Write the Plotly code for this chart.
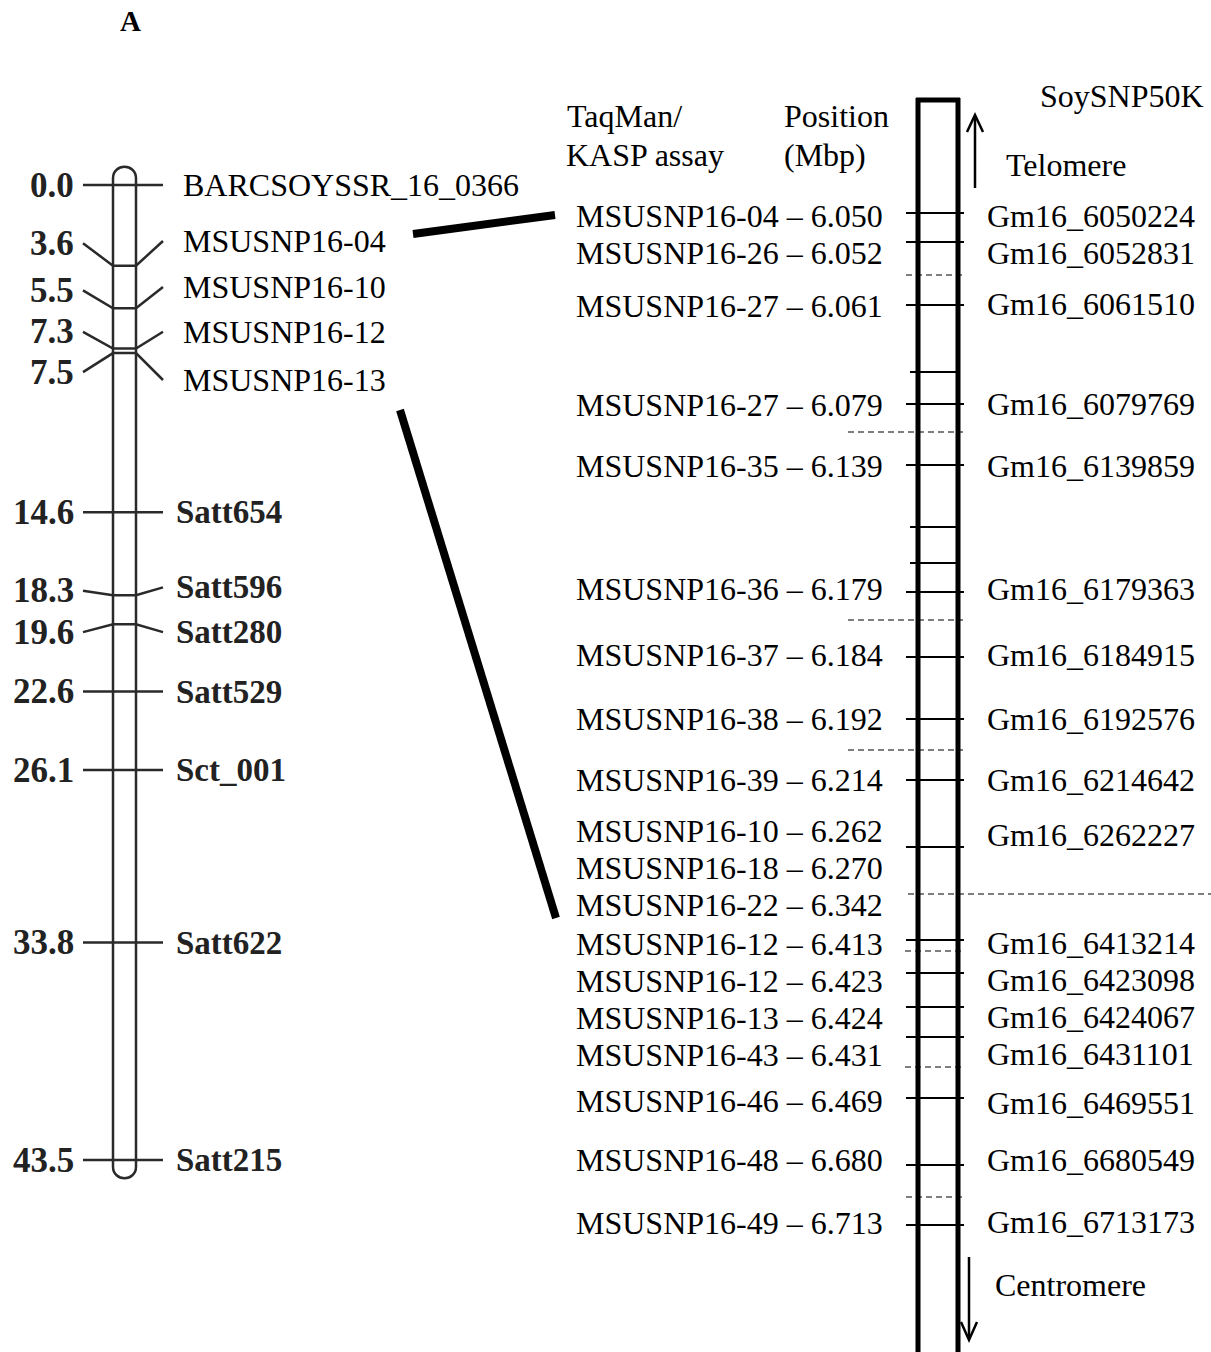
import plotly.graph_objects as go

# ---------------- DATA ----------------
# Genetic linkage map (left), positions in cM
map_markers = ["BARCSOYSSR_16_0366", "MSUSNP16-04", "MSUSNP16-10", "MSUSNP16-12",
               "MSUSNP16-13", "Satt654", "Satt596", "Satt280", "Satt529",
               "Sct_001", "Satt622", "Satt215"]
map_cm = [0.0, 3.6, 5.5, 7.3, 7.5, 14.6, 18.3, 19.6, 22.6, 26.1, 33.8, 43.5]

# Physical map (right)
assay_names = ["MSUSNP16-04", "MSUSNP16-26", "MSUSNP16-27", "MSUSNP16-27", "MSUSNP16-35",
               "MSUSNP16-36", "MSUSNP16-37", "MSUSNP16-38", "MSUSNP16-39", "MSUSNP16-10",
               "MSUSNP16-18", "MSUSNP16-22", "MSUSNP16-12", "MSUSNP16-12", "MSUSNP16-13",
               "MSUSNP16-43", "MSUSNP16-46", "MSUSNP16-48", "MSUSNP16-49"]
position_mbp = [6.050, 6.052, 6.061, 6.079, 6.139, 6.179, 6.184, 6.192, 6.214, 6.262,
                6.270, 6.342, 6.413, 6.423, 6.424, 6.431, 6.469, 6.680, 6.713]
soysnp_names = ["Gm16_6050224", "Gm16_6052831", "Gm16_6061510", "Gm16_6079769",
                "Gm16_6139859", "Gm16_6179363", "Gm16_6184915", "Gm16_6192576",
                "Gm16_6214642", "Gm16_6262227", None, None, "Gm16_6413214",
                "Gm16_6423098", "Gm16_6424067", "Gm16_6431101", "Gm16_6469551",
                "Gm16_6680549", "Gm16_6713173"]

# ---------------- LAYOUT (schematic placement) ----------------
W, H = 1211, 1352
SERIF = "Liberation Serif"
# left map label placement (cM units on the map axis)
num_label_cm = [0.0, 2.6, 4.7, 6.55, 8.35, 14.6, 18.1, 19.95, 22.6, 26.1, 33.8, 43.5]
name_label_cm = [0.0, 2.5, 4.55, 6.55, 8.7, 14.6, 17.95, 19.95, 22.6, 26.1, 33.8, 43.5]
CM_TOP_PX, PX_PER_CM = 185.0, 22.414
cm_range = [(H - CM_TOP_PX) / PX_PER_CM, -CM_TOP_PX / PX_PER_CM]

# right panel rows (pixel placement of the schematic)
row_label_y = [216, 253, 306, 405, 466, 589, 655, 719, 780, 831, 868, 905, 944, 981,
               1018, 1055, 1101, 1160, 1223]
snp_label_y = [216, 253, 304, 404, 466, 589, 655, 719, 780, 835, None, None, 943, 980,
               1017, 1054, 1103, 1160, 1222]
row_tick_y = [213, 242, 305, 404, 465, 592, 657, 719, 780, 847, None, None, 940, 973,
              1007, 1037, 1098, 1165, 1225]
extra_tick_y = [372, 527, 563]
dash_y = [275, 432, 620, 750, 951, 1067, 1197]
dash_x0 = [906, 848, 848, 848, 905, 905, 906]
long_dash_y = 894

fig = go.Figure()

# ---- left chromosome (map axis y2 in cM) ----
LX0, LX1 = 113, 136
seg_x, seg_y = [], []
for cm, nl, rl in zip(map_cm, num_label_cm, name_label_cm):
    seg_x += [83, LX0, LX1, 163, None]
    seg_y += [nl, cm, cm, rl, None]
fig.add_trace(go.Scatter(x=seg_x, y=seg_y, mode="lines", yaxis="y2",
                         line=dict(color="#2a2a2a", width=2.5), hoverinfo="skip",
                         showlegend=False))

cap = 0.68
top, bot = -0.3, map_cm[-1] + 0.3
fig.add_shape(type="path", xref="x", yref="y2",
              path=(f"M {LX0},{top} C {LX0},{top-cap} {LX1},{top-cap} {LX1},{top} "
                    f"L {LX1},{bot} C {LX1},{bot+cap} {LX0},{bot+cap} {LX0},{bot} Z"),
              line=dict(color="#2a2a2a", width=2.5), fillcolor="rgba(0,0,0,0)")

for name, cm, nl, rl in zip(map_markers, map_cm, num_label_cm, name_label_cm):
    fig.add_annotation(x=76, y=nl, xref="x", yref="y2", text=f"<b>{cm:.1f}</b>",
                       showarrow=False, xanchor="right", yanchor="middle",
                       font=dict(family=SERIF, size=35, color="#222"))
    if name.startswith("S"):
        fig.add_annotation(x=174, y=rl, xref="x", yref="y2", text=f"<b>{name}</b>",
                           showarrow=False, xanchor="left", yanchor="middle",
                           font=dict(family=SERIF, size=33, color="#222"))
    else:
        fig.add_annotation(x=181, y=rl, xref="x", yref="y2", text=name,
                           showarrow=False, xanchor="left", yanchor="middle",
                           font=dict(family=SERIF, size=32, color="black"))

# ---- connecting lines ----
fig.add_shape(type="line", x0=413, y0=234, x1=555, y1=215,
              line=dict(color="black", width=8))
fig.add_shape(type="line", x0=400, y0=410, x1=556, y1=918,
              line=dict(color="black", width=8))

# ---- right chromosome ----
RX0, RX1 = 918, 958
fig.add_shape(type="line", x0=RX0, y0=98, x1=RX0, y1=H, line=dict(color="black", width=5))
fig.add_shape(type="line", x0=RX1, y0=98, x1=RX1, y1=H, line=dict(color="black", width=5))
fig.add_shape(type="line", x0=RX0 - 2, y0=100, x1=RX1 + 2, y1=100,
              line=dict(color="black", width=5))

tx, ty = [], []
for yv in row_tick_y:
    if yv is not None:
        tx += [906, 964, None]
        ty += [yv, yv, None]
for yv in extra_tick_y:
    tx += [910, RX1, None]
    ty += [yv, yv, None]
fig.add_trace(go.Scatter(x=tx, y=ty, mode="lines", line=dict(color="black", width=2),
                         hoverinfo="skip", showlegend=False))

dx, dy = [], []
for yv, x0 in zip(dash_y, dash_x0):
    dx += [x0, 963, None]
    dy += [yv, yv, None]
dx += [908, W, None]
dy += [long_dash_y, long_dash_y, None]
fig.add_trace(go.Scatter(x=dx, y=dy, mode="lines",
                         line=dict(color="#7f7f7f", width=1.8, dash="6px,4px"),
                         hoverinfo="skip", showlegend=False))

for name, pos, ly in zip(assay_names, position_mbp, row_label_y):
    fig.add_annotation(x=885, y=ly, text=f"{name} – {pos:.3f}", showarrow=False,
                       xanchor="right", yanchor="middle",
                       font=dict(family=SERIF, size=32, color="black"))
for snp, ly in zip(soysnp_names, snp_label_y):
    if snp is not None:
        fig.add_annotation(x=985, y=ly, text=snp, showarrow=False,
                           xanchor="left", yanchor="middle",
                           font=dict(family=SERIF, size=32, color="black"))

# headers and labels
def txt(x, y, s, anchor="left", size=32, bold=False):
    fig.add_annotation(x=x, y=y, text=f"<b>{s}</b>" if bold else s, showarrow=False,
                       xanchor=anchor, yanchor="middle",
                       font=dict(family=SERIF, size=size, color="black"))

txt(118, 21, "A", size=29, bold=True)
txt(565, 116, "TaqMan/")
txt(564, 155, "KASP assay")
txt(782, 116, "Position")
txt(782, 155, "(Mbp)")
txt(1038, 96, "SoySNP50K")
txt(1004, 165, "Telomere")
txt(993, 1285, "Centromere")

# arrows
fig.add_shape(type="line", x0=975, y0=188, x1=975, y1=116, line=dict(color="black", width=2.5))
fig.add_shape(type="path", path="M 967,132 L 975,115 L 983,132",
              line=dict(color="black", width=2.5))
fig.add_shape(type="line", x0=969, y0=1257, x1=969, y1=1339, line=dict(color="black", width=2.5))
fig.add_shape(type="path", path="M 961,1322 L 969,1340 L 977,1322",
              line=dict(color="black", width=2.5))

fig.update_layout(
    width=W, height=H, margin=dict(l=0, r=0, t=0, b=0),
    paper_bgcolor="white", plot_bgcolor="white", showlegend=False,
    xaxis=dict(range=[0, W], visible=False, fixedrange=True),
    yaxis=dict(range=[H, 0], visible=False, fixedrange=True),
    yaxis2=dict(range=cm_range, visible=False, overlaying="y", fixedrange=True),
)

fig.write_html("out.html")
